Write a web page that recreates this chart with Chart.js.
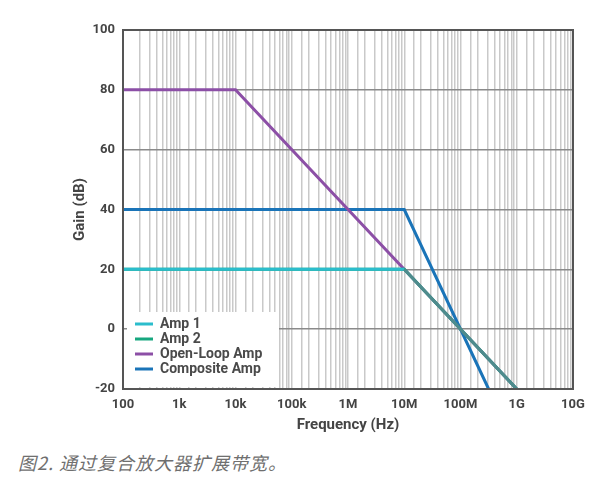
<!DOCTYPE html>
<html>
<head>
<meta charset="utf-8">
<script src="https://cdn.jsdelivr.net/npm/chart.js@4"></script>
<style>
    body { margin: 0; background: #ffffff; }
    #wrap { position: relative; width: 601px; height: 481px; }
    #box { position: absolute; left: 0; top: 0; width: 601px; height: 440px; }
    #legenda {
        position: absolute; left: 18px; top: 449px;
        font-family: "Noto Sans CJK SC", sans-serif; font-style: italic;
        font-size: 18px; color: #6f6f6f; letter-spacing: 1px;
    }
</style>
</head>
<body>
<div id="wrap">
    <div id="box"><canvas id="chart_ganho"></canvas></div>
    <div id="legenda">图2. 通过复合放大器扩展带宽。</div>
</div>
<script>
// dados
var nomesSeries = ["Amp 1", "Amp 2", "Open-Loop Amp", "Composite Amp"];
var coresSeries = ["#2bbdcc", "#17a77f", "#8c4fa6", "#1a74b8"];

var freqAmp1 = [100, 1e7, 1e9];
var ganhoAmp1 = [20, 20, -20];
var freqAmp2 = [100, 1e7, 1e9];
var ganhoAmp2 = [20, 20, -20];
var freqMalhaAberta = [100, 1e4, 1e9];
var ganhoMalhaAberta = [80, 80, -20];
var freqComposto = [100, 1e7, 3.16e8];
var ganhoComposto = [40, 40, -20];

var rotulosFreq = { 100: "100", 1e3: "1k", 1e4: "10k", 1e5: "100k", 1e6: "1M", 1e7: "10M", 1e8: "100M", 1e9: "1G", 1e10: "10G" };

function montarPontos(xs, ys) {
    let pontos = [];
    for (let i = 0; i < xs.length; i++) {
        pontos.push({ x: xs[i], y: ys[i] });
    }
    return pontos;
}

// trecho inclinado depois de 10M aparece cinza-esverdeado (sobreposição)
var corInclinada = "#4f8b8d";

var fonteEixo = { family: "Roboto", weight: "bold", size: 13 };
var fonteTitulo = { family: "Roboto", weight: "bold", size: 15 };

var dados = {
    datasets: [
        {
            label: nomesSeries[3],
            data: montarPontos(freqComposto, ganhoComposto),
            borderColor: coresSeries[3],
            borderWidth: 3,
            pointRadius: 0,
            order: 4
        },
        {
            label: nomesSeries[2],
            data: montarPontos(freqMalhaAberta, ganhoMalhaAberta),
            borderColor: coresSeries[2],
            borderWidth: 3,
            pointRadius: 0,
            order: 3
        },
        {
            label: nomesSeries[1],
            data: montarPontos(freqAmp2, ganhoAmp2),
            borderColor: coresSeries[1],
            borderWidth: 3,
            pointRadius: 0,
            order: 2
        },
        {
            label: nomesSeries[0],
            data: montarPontos(freqAmp1, ganhoAmp1),
            borderColor: coresSeries[0],
            borderWidth: 3,
            pointRadius: 0,
            order: 1,
            segment: {
                borderColor: function (ctx) {
                    return ctx.p0.parsed.x >= 1e7 ? corInclinada : undefined;
                }
            }
        }
    ]
};

// moldura em volta da área do gráfico
const moldura = {
    id: "moldura",
    afterDraw: function (chart) {
        const a = chart.chartArea;
        const c = chart.ctx;
        c.save();
        c.strokeStyle = "#555555";
        c.lineWidth = 2;
        c.strokeRect(a.left, a.top, a.right - a.left, a.bottom - a.top);
        c.restore();
    }
};

// legenda dentro da área, canto inferior esquerdo
const legendaInterna = {
    id: "legendaInterna",
    afterDraw: function (chart) {
        const a = chart.chartArea;
        const c = chart.ctx;
        const x0 = a.left + 4;
        const y0 = a.bottom - 77;
        c.save();
        c.fillStyle = "#ffffff";
        c.fillRect(x0, y0, 152, 75);
        c.font = "bold 14px Roboto, 'Liberation Sans', sans-serif";
        c.textBaseline = "middle";
        for (let i = 0; i < nomesSeries.length; i++) {
            const y = y0 + 12 + i * 15;
            c.strokeStyle = coresSeries[i];
            c.lineWidth = 3;
            c.beginPath();
            c.moveTo(x0 + 8, y);
            c.lineTo(x0 + 26, y);
            c.stroke();
            c.fillStyle = "#4a4a4a";
            c.fillText(nomesSeries[i], x0 + 33, y);
        }
        c.restore();
    }
};

const config = {
    type: "line",
    data: dados,
    options: {
        responsive: true,
        maintainAspectRatio: false,
        animation: false,
        layout: { padding: { top: 30, right: 28, left: 0, bottom: 0 } },
        plugins: {
            legend: { display: false },
            tooltip: { enabled: false }
        },
        scales: {
            x: {
                type: "logarithmic",
                min: 100,
                max: 1e10,
                afterFit: function (s) { s.height = 51; },
                grid: { color: "#c9c9c9", lineWidth: 1.5, drawTicks: false },
                border: { display: false },
                ticks: {
                    autoSkip: false,
                    maxRotation: 0,
                    padding: 8,
                    color: "#444444",
                    font: fonteEixo,
                    callback: function (valor) {
                        return rotulosFreq[valor] !== undefined ? rotulosFreq[valor] : "";
                    }
                },
                title: {
                    display: true,
                    text: "Frequency (Hz)",
                    color: "#444444",
                    font: fonteTitulo,
                    padding: { top: 0, bottom: 6 }
                }
            },
            y: {
                min: -20,
                max: 100,
                afterFit: function (s) { s.width = 123; },
                grid: { color: "#8a8a8a", lineWidth: 1.5, drawTicks: false },
                border: { display: false },
                ticks: {
                    stepSize: 20,
                    padding: 8,
                    color: "#444444",
                    font: fonteEixo
                },
                title: {
                    display: true,
                    text: "Gain (dB)",
                    color: "#444444",
                    font: fonteTitulo,
                    padding: { top: 71, bottom: 0 }
                }
            }
        }
    },
    plugins: [moldura, legendaInterna]
};

let myChart = new Chart(document.getElementById("chart_ganho"), config);
</script>
</body>
</html>
